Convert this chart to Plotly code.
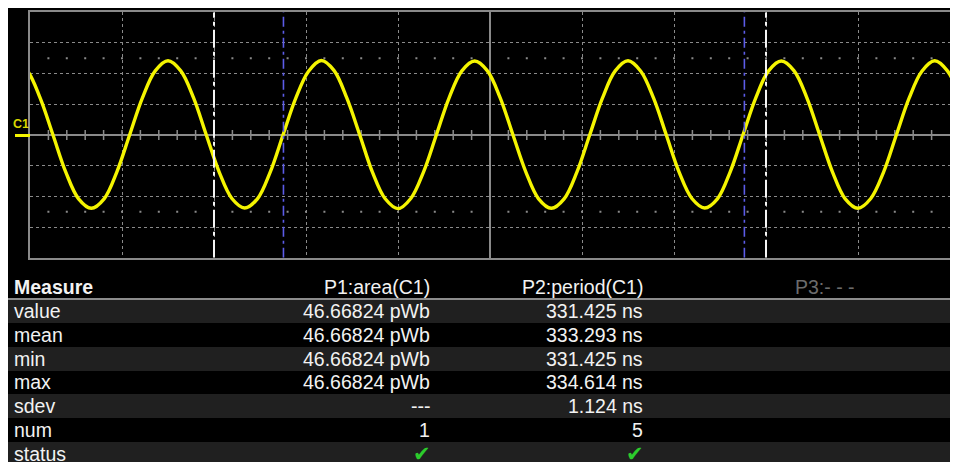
import plotly.graph_objects as go

W, H = 958, 462

# ---------------- data ----------------
# C1 waveform samples (time in ns, amplitude in divisions)
t_ns = [-1033.3, -1005.6, -977.8, -950.0, -922.2, -894.4, -866.7, -838.9, -811.1, -783.3, -755.6, -727.8,
        -700.0, -672.2, -644.4, -616.7, -588.9, -561.1, -533.3, -505.6, -477.8, -450.0, -422.2, -394.4,
        -366.7, -338.9, -311.1, -283.3, -255.6, -227.8, -200.0, -172.2, -144.4, -116.7, -88.9, -61.1,
        -33.3, -5.6, 22.2, 50.0, 77.8, 105.6, 133.3, 161.1, 188.9, 216.7, 244.4, 272.2,
        300.0, 327.8, 355.6, 383.3, 411.1, 438.9, 466.7, 494.4, 522.2, 550.0, 577.8, 605.6,
        633.3, 661.1, 688.9, 716.7, 744.4, 772.2, 800.0, 827.8, 855.6, 883.3, 911.1, 938.9,
        966.7, 994.4, 1022.2]
v_div = [2.41, 2.09, 1.20, 0.00, -1.21, -2.08, -2.39, -2.08, -1.20, 0.01, 1.21, 2.09,
         2.42, 2.09, 1.21, 0.00, -1.20, -2.07, -2.38, -2.08, -1.21, 0.00, 1.20, 2.08,
         2.43, 2.10, 1.20, 0.01, -1.21, -2.08, -2.40, -2.07, -1.20, 0.00, 1.21, 2.09,
         2.41, 2.09, 1.21, 0.00, -1.20, -2.08, -2.39, -2.08, -1.21, 0.00, 1.20, 2.09,
         2.42, 2.08, 1.20, 0.00, -1.21, -2.07, -2.38, -2.08, -1.20, 0.01, 1.21, 2.09,
         2.41, 2.09, 1.21, 0.00, -1.20, -2.08, -2.39, -2.07, -1.21, 0.00, 1.20, 2.08,
         2.42, 2.09, 1.20]

cursor_white_ns = [-600, 600]
cursor_blue_ns = [-449, 553]

header_labels = ["Measure", "P1:area(C1)", "P2:period(C1)", "P3:- - -"]
row_labels = ["value", "mean", "min", "max", "sdev", "num", "status"]
p1_values = ["46.66824 pWb", "46.66824 pWb", "46.66824 pWb", "46.66824 pWb", "---", "1", "✔"]
p2_values = ["331.425 ns", "333.293 ns", "331.425 ns", "334.614 ns", "1.124 ns", "5", "✔"]

# ---------------- layout geometry (page pixels; the page body has an 8px margin) ----------------
OX, OY = 8, 8


def PX(px):
    return (px - OX) / W


def PY(py):
    return 1 - (py - OY) / H


X_L, X_R = 30, 950          # graticule box in page px
Y_T, Y_B = 12.3, 257.7
T_MIN, T_MAX = -1000, 1000
V_MIN, V_MAX = -4, 4


def xd(px):
    return T_MIN + (px - X_L) / (X_R - X_L) * (T_MAX - T_MIN)


def yd(py):
    return V_MAX - (py - Y_T) / (Y_B - Y_T) * (V_MAX - V_MIN)


GRID = "#8a8a8a"
YEL = "#f4f400"
FONT = "Liberation Sans, Arial, sans-serif"
FS = 19.5

minor_ns = [x for x in range(-960, 1000, 40)]

fig = go.Figure()

# graticule dots at +-2.5 div
fig.add_trace(go.Scatter(x=minor_ns + minor_ns, y=[2.5] * len(minor_ns) + [-2.5] * len(minor_ns),
                         mode="markers", marker=dict(symbol="square", size=2, color=GRID),
                         hoverinfo="skip", showlegend=False))
# minor ticks on centre line
fig.add_trace(go.Scatter(x=minor_ns, y=[0] * len(minor_ns), mode="markers",
                         marker=dict(symbol="line-ns", size=7, line=dict(width=1.5, color=GRID)),
                         hoverinfo="skip", showlegend=False))

# signal
fig.add_trace(go.Scatter(x=t_ns, y=v_div, mode="lines", line=dict(color=YEL, width=3.4, shape="spline"),
                         hoverinfo="skip", showlegend=False))


def vlines(xs):
    xx, yy = [], []
    for c in xs:
        xx += [c, c, None]
        yy += [V_MIN, V_MAX, None]
    return xx, yy


wx, wy = vlines(cursor_white_ns)
fig.add_trace(go.Scatter(x=wx, y=wy, mode="lines", line=dict(color="#f4f4f4", width=2, dash="18px,4px,4px,4px"),
                         hoverinfo="skip", showlegend=False))
bx, by = vlines(cursor_blue_ns)
fig.add_trace(go.Scatter(x=bx, y=by, mode="lines", line=dict(color="#5c5ce8", width=1.6, dash="10px,4px,3px,4px"),
                         hoverinfo="skip", showlegend=False))

# trigger / level markers
fig.add_trace(go.Scatter(x=[xd(954.5)], y=[0], mode="markers", cliponaxis=False,
                         marker=dict(symbol="triangle-left", size=9, color=YEL),
                         hoverinfo="skip", showlegend=False))
fig.add_trace(go.Scatter(x=[0], y=[yd(266.5)], mode="markers", cliponaxis=False,
                         marker=dict(symbol="triangle-up", size=10, color=YEL),
                         hoverinfo="skip", showlegend=False))

# ---------------- measurement table ----------------
TBL_TOP = 275
ROW0 = 287.2
ROW_H = 23.8
PAGE_BOTTOM = OY + H
k_bottom = (PAGE_BOTTOM - ROW0) / ROW_H
k_top = (TBL_TOP - ROW0) / ROW_H
X2_L, X2_R = OX, OX + W
stripe_rows = [k for k in range(1, len(row_labels) + 1) if k % 2 == 1]
fig.add_trace(go.Bar(y=stripe_rows, x=[X2_R - X2_L] * len(stripe_rows), base=X2_L, orientation="h", width=1,
                     marker=dict(color="#202020", line=dict(width=0)),
                     xaxis="x2", yaxis="y2", hoverinfo="skip", showlegend=False))
fig.add_trace(go.Scatter(x=[X2_L, X2_R], y=[0.5, 0.5], mode="lines", line=dict(color="#8c8c8c", width=2),
                         xaxis="x2", yaxis="y2", hoverinfo="skip", showlegend=False))

col_x = [12, 432, 645, 857]
annotations = []
for c, lab in enumerate(header_labels):
    annotations.append(dict(x=col_x[c], y=0, xref="x2", yref="y2",
                            text=("<b>%s</b>" % lab) if c == 0 else lab,
                            xanchor="left" if c == 0 else "right", yanchor="middle", showarrow=False,
                            font=dict(family=FONT, size=FS, color="#6c6c6c" if c == 3 else "#f2f2f2")))
for col, vals in enumerate([row_labels, p1_values, p2_values]):
    for i, v in enumerate(vals):
        is_check = v == "✔"
        annotations.append(dict(x=col_x[col] + (1 if is_check else 0), y=i + 1, xref="x2", yref="y2", text=v,
                                xanchor="left" if col == 0 else "right", yanchor="middle", showarrow=False,
                                font=dict(family="DejaVu Sans" if is_check else FONT,
                                          size=21 if is_check else FS,
                                          color="#2ccc2c" if is_check else "#f2f2f2")))

# channel label
annotations.append(dict(x=PX(11), y=PY(124), xref="paper", yref="paper", text="<b>C1</b>",
                        xanchor="left", yanchor="middle", showarrow=False,
                        font=dict(family=FONT, size=12.5, color="#d8d800")))

shapes = [
    dict(type="line", xref="paper", yref="paper", x0=PX(15), x1=PX(30), y0=PY(135.5), y1=PY(135.5),
         line=dict(color=YEL, width=3)),
]

fig.update_layout(
    width=W, height=H, autosize=False,
    margin=dict(l=0, r=0, t=0, b=0, pad=0),
    paper_bgcolor="black", plot_bgcolor="black",
    showlegend=False,
    xaxis=dict(domain=[PX(X_L), PX(X_R)], range=[T_MIN, T_MAX], dtick=200, tick0=0,
               showgrid=True, gridcolor=GRID, griddash="dot", gridwidth=1,
               zeroline=True, zerolinecolor=GRID, zerolinewidth=1.5,
               showline=True, mirror=True, linecolor=GRID, linewidth=2,
               showticklabels=False, ticks="", fixedrange=True),
    yaxis=dict(domain=[PY(Y_B), PY(Y_T)], range=[V_MIN, V_MAX], dtick=1, tick0=0,
               showgrid=True, gridcolor=GRID, griddash="dot", gridwidth=1,
               zeroline=True, zerolinecolor=GRID, zerolinewidth=1.5,
               showline=True, mirror=True, linecolor=GRID, linewidth=2,
               showticklabels=False, ticks="", fixedrange=True),
    xaxis2=dict(domain=[0, 1], range=[X2_L, X2_R], visible=False, anchor="y2", fixedrange=True),
    yaxis2=dict(domain=[0, PY(TBL_TOP)], range=[k_bottom, k_top], visible=False, anchor="x2",
                fixedrange=True),
    annotations=annotations,
    shapes=shapes,
    bargap=0,
)

fig.write_html("out.html")
